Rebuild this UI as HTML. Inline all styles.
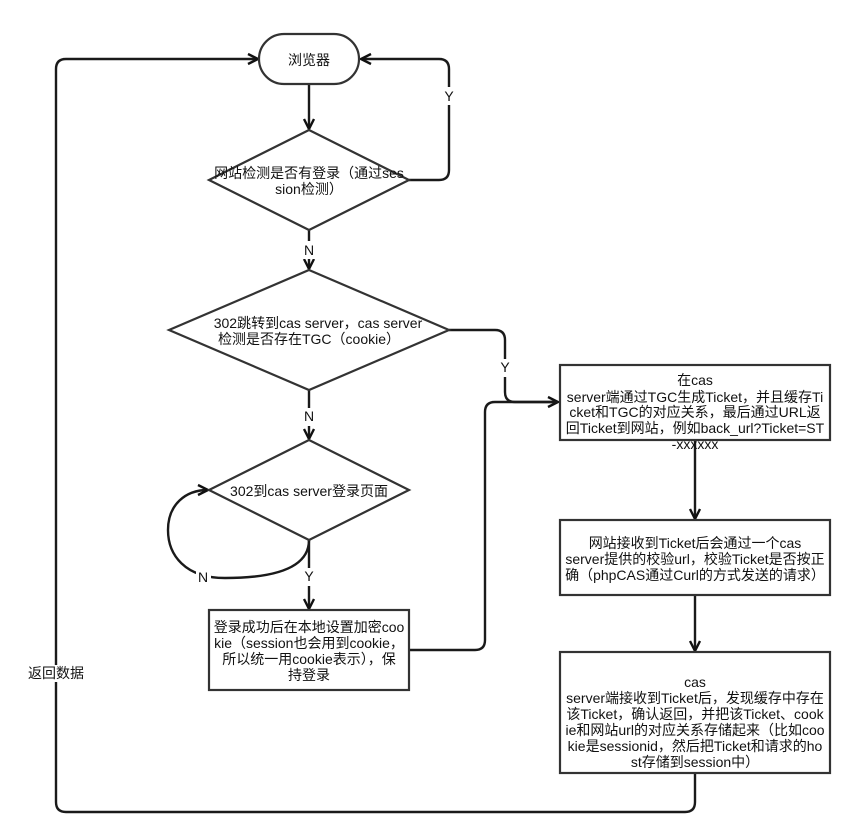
<!DOCTYPE html>
<html>
<head>
<meta charset="utf-8">
<style>
html,body{margin:0;padding:0;background:#fff;width:850px;height:837px;overflow:hidden}
svg{display:block}
text{font-family:"Liberation Sans","WenQuanYi Zen Hei","Noto Sans CJK SC",sans-serif;font-size:14px;fill:#111;text-anchor:middle}
.s{fill:#fff;stroke:#333;stroke-width:2.2}
.c{fill:none;stroke:#1a1a1a;stroke-width:2.4}
.a{fill:none;stroke:#111;stroke-width:2.4}
.l{fill:#fff;stroke:none}
</style>
</head>
<body>
<svg width="850" height="837" viewBox="0 0 850 837" xmlns="http://www.w3.org/2000/svg">
<!-- connectors -->
<path class="c" d="M309 84V129"/>
<path class="a" d="M304 119L309 129L314 119"/>
<path class="c" d="M409 180H439Q449 180 449 170V69Q449 59 439 59H361"/>
<path class="a" d="M371 54L361 59L371 64"/>
<path class="c" d="M309 230V269"/>
<path class="a" d="M304 259L309 269L314 259"/>
<path class="c" d="M449 330H495Q505 330 505 340V392Q505 402 515 402H558"/>
<path class="a" d="M548 397L558 402L548 407"/>
<path class="c" d="M309 390V439"/>
<path class="a" d="M304 429L309 439L314 429"/>
<path class="c" d="M309 540V609"/>
<path class="a" d="M304 599L309 609L314 599"/>
<path class="c" d="M309 540C309 570 270 578 225 578C185 578 168 555 168 530C168 505 185 490 208 490"/>
<path class="a" d="M198 485L208 490L198 495"/>
<path class="c" d="M409 650H475Q485 650 485 640V412Q485 402 495 402H558"/>
<path class="c" d="M695 440V519"/>
<path class="a" d="M690 509L695 519L700 509"/>
<path class="c" d="M695 595V651"/>
<path class="a" d="M690 641L695 651L700 641"/>
<path class="c" d="M695 773V802Q695 812 685 812H66Q56 812 56 802V69Q56 59 66 59H258"/>
<path class="a" d="M248 54L258 59L248 64"/>

<!-- shapes -->
<rect class="s" x="259" y="34" width="100" height="50" rx="25" ry="25"/>
<polygon class="s" points="309,130 409,180 309,230 209,180"/>
<polygon class="s" points="309,270 449,330 309,390 169,330"/>
<polygon class="s" points="309,440 409,490 309,540 209,490"/>
<rect class="s" x="209" y="610" width="200" height="80"/>
<rect class="s" x="560" y="365" width="270" height="75"/>
<rect class="s" x="560" y="520" width="270" height="75"/>
<rect class="s" x="560" y="652" width="270" height="121"/>

<!-- edge label backgrounds -->
<rect class="l" x="442" y="87" width="14" height="18"/>
<rect class="l" x="302" y="241" width="14" height="18"/>
<rect class="l" x="497" y="359" width="15" height="18"/>
<rect class="l" x="302" y="408" width="14" height="18"/>
<rect class="l" x="196" y="568" width="15" height="18"/>
<rect class="l" x="302" y="568" width="14" height="18"/>
<rect class="l" x="27" y="665" width="57" height="17"/>

<!-- edge labels -->
<text x="449" y="101">Y</text>
<text x="309" y="255">N</text>
<text x="505" y="372">Y</text>
<text x="309" y="421">N</text>
<text x="203" y="582">N</text>
<text x="309" y="581">Y</text>
<text x="56" y="678">返回数据</text>

<!-- node labels -->
<text x="309" y="65">浏览器</text>
<text x="309" y="178">网站检测是否有登录（通过ses</text>
<text x="309" y="194">sion检测）</text>
<text x="318" y="328">302跳转到cas server，cas server</text>
<text x="309" y="344">检测是否存在TGC（cookie）</text>
<text x="309" y="496">302到cas server登录页面</text>
<text x="309" y="632">登录成功后在本地设置加密coo</text>
<text x="309" y="648">kie（session也会用到cookie，</text>
<text x="309" y="664">所以统一用cookie表示），保</text>
<text x="309" y="680">持登录</text>
<text x="695" y="385">在cas</text>
<text x="695" y="402">server端通过TGC生成Ticket，并且缓存Ti</text>
<text x="695" y="417">cket和TGC的对应关系，最后通过URL返</text>
<text x="695" y="433">回Ticket到网站，例如back_url?Ticket=ST</text>
<text x="695" y="449">-xxxxxx</text>
<text x="695" y="548">网站接收到Ticket后会通过一个cas</text>
<text x="695" y="564">server提供的校验url，校验Ticket是否按正</text>
<text x="695" y="580">确（phpCAS通过Curl的方式发送的请求）</text>
<text x="695" y="687">cas</text>
<text x="695" y="703">server端接收到Ticket后，发现缓存中存在</text>
<text x="695" y="719">该Ticket，确认返回，并把该Ticket、cook</text>
<text x="695" y="735">ie和网站url的对应关系存储起来（比如coo</text>
<text x="695" y="751">kie是sessionid，然后把Ticket和请求的ho</text>
<text x="695" y="767">st存储到session中）</text>
</svg>
</body>
</html>
